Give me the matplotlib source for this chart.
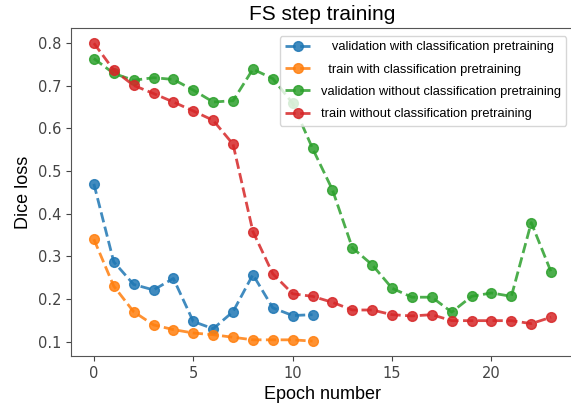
import numpy as np
import matplotlib
matplotlib.use("Agg")
import matplotlib.pyplot as plt

# Dice loss per epoch
val_with = [0.470, 0.287, 0.234, 0.221, 0.248, 0.147, 0.130, 0.170, 0.257, 0.179, 0.161, 0.163]
train_with = [0.340, 0.230, 0.170, 0.139, 0.128, 0.120, 0.116, 0.110, 0.104, 0.104, 0.104, 0.101]
val_without = [0.764, 0.729, 0.713, 0.719, 0.715, 0.690, 0.662, 0.665, 0.739, 0.717, 0.659, 0.553,
               0.456, 0.320, 0.280, 0.225, 0.204, 0.204, 0.169, 0.206, 0.214, 0.206, 0.379, 0.263]
train_without = [0.800, 0.737, 0.701, 0.682, 0.662, 0.641, 0.619, 0.563, 0.358, 0.259, 0.212, 0.206,
                 0.192, 0.174, 0.174, 0.163, 0.160, 0.163, 0.149, 0.149, 0.149, 0.149, 0.142, 0.157]

labels = ["   validation with classification pretraining",
          "  train with classification pretraining",
          "validation without classification pretraining",
          "train without classification pretraining"]

fig = plt.figure(figsize=(5.71, 4.12), dpi=100)
ax = fig.add_axes([71 / 571, 56 / 412, 503 / 571, 327.7 / 412])

series = [val_with, train_with, val_without, train_without]
colors = ['tab:blue', 'tab:orange', 'tab:green', 'tab:red']
for s, c, lab in zip(series, colors, labels):
    ax.plot(np.arange(len(s)), s, '--o', color=c, lw=2, ms=7, alpha=0.85, label=lab)

ax.set_title('FS step training', fontsize=15, family='Liberation Sans')
ax.set_xlabel('Epoch number', fontsize=13, family='Liberation Sans')
ax.set_ylabel('Dice loss', fontsize=13, family='Liberation Sans')
ax.set_xticks([0, 5, 10, 15, 20])
ax.set_yticks([0.1, 0.2, 0.3, 0.4, 0.5, 0.6, 0.7, 0.8])
ax.tick_params(labelsize=10.5, colors='#444444')
for sp in ax.spines.values():
    sp.set_color('#555555')

ax.legend(loc='upper right', prop={'family': 'Liberation Sans', 'size': 9.3},
          labelspacing=0.8, borderaxespad=0.6)

fig.savefig('out.png', dpi=100)
